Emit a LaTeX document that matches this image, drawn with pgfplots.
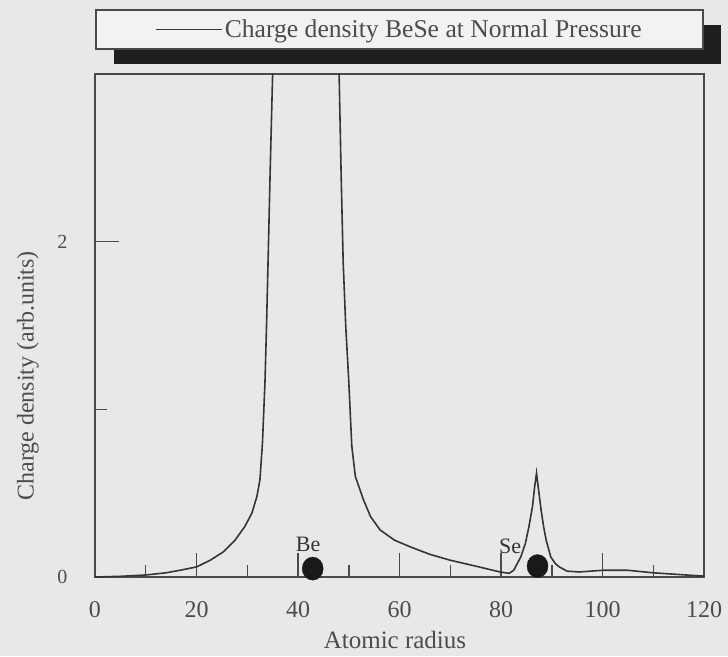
\documentclass[border=0pt]{standalone}
\usepackage{fontspec}
\setmainfont{Liberation Serif}
\usepackage{pgfplots}
\pgfplotsset{compat=1.18}
\usetikzlibrary{shadows}
\definecolor{bg}{HTML}{E8E8E8}
\definecolor{legfill}{HTML}{F2F2F2}
\definecolor{txt}{HTML}{4C4C4C}
\definecolor{frame}{HTML}{4A4A4A}
\definecolor{curve}{HTML}{353535}

\pgfplotstableread{
x y
0 0
5 0.004
10 0.012
14 0.025
16.7 0.04
20 0.06
22.7 0.10
25.3 0.15
27.6 0.22
29.5 0.30
30.9 0.38
31.9 0.48
32.5 0.58
33.0 0.80
33.5 1.17
33.8 1.50
34.1 1.88
34.5 2.40
35.0 3.00
35.3 3.40
41.5 9.00
47.9 3.30
48.1 3.00
48.5 2.40
48.9 1.88
49.4 1.50
50.0 1.17
50.6 0.78
51.3 0.60
52.9 0.46
54.3 0.36
56.2 0.28
59.0 0.22
62.1 0.18
66.0 0.135
70.0 0.10
75.0 0.065
79.8 0.03
81.6 0.022
82.5 0.04
83.9 0.12
84.8 0.20
85.5 0.30
86.2 0.42
86.6 0.53
87.0 0.62
87.4 0.52
87.9 0.40
88.4 0.30
88.9 0.22
89.8 0.12
90.7 0.08
91.5 0.06
93.0 0.035
95.4 0.03
100 0.04
105 0.04
110 0.025
115 0.015
120 0.005
}\density

\pgfplotstableread{
x y
42.9 0.05
87.2 0.065
}\atoms

\begin{document}
\begin{tikzpicture}
\fill[bg] (-95pt,-79pt) rectangle (633pt,577pt);
\begin{axis}[
  at={(0pt,0pt)}, anchor=south west,
  scale only axis, width=609pt, height=503pt,
  xmin=0, xmax=120, ymin=0, ymax=3,
  axis background/.style={fill=bg},
  axis line style={draw=frame, line width=1.6pt},
  xtick={0,20,...,120}, minor xtick={10,30,...,110},
  ytick={0,2}, minor ytick={1},
  tick pos=left,
  tick align=inside,
  major tick length=24pt, minor tick length=12pt,
  every tick/.style={draw=frame, line width=1.5pt},
  /pgf/number format/assume math mode=true,
  xticklabel style={font=\fontsize{24}{28}\selectfont, text=txt, yshift=-21pt},
  yticklabel style={font=\fontsize{20}{24}\selectfont, text=txt, xshift=-24pt},
  xlabel={Atomic radius},
  ylabel={Charge density (arb.units)},
  xlabel style={font=\fontsize{25}{30}\selectfont, text=txt, at={(axis description cs:0.4926,-0.125)}, anchor=center},
  ylabel style={font=\fontsize{24}{28}\selectfont, text=txt, at={(axis description cs:-0.11,0.40)}, anchor=center},
  legend style={at={(axis description cs:0.5,1)}, anchor=south, yshift=24pt,
    draw=frame, line width=1.6pt, fill=legfill,
    font=\fontsize{25.6}{30}\selectfont, text=txt,
    inner xsep=59pt, inner ysep=8pt,
    drop shadow={shadow xshift=18pt, shadow yshift=-15pt, fill=black!88, opacity=1}},
  legend image code/.code={%
    \pgfsetlinewidth{1.6pt}\pgfsetstrokecolor{curve}%
    \pgfpathmoveto{\pgfpoint{0pt}{0pt}}\pgfpathlineto{\pgfpoint{66pt}{0pt}}%
    \pgfusepath{stroke}},
]
\addplot[curve, line width=1.6pt] table[x=x, y=y] {\density};
\addlegendentry{Charge density BeSe at Normal Pressure}
\addplot[forget plot, only marks, mark=*, mark size=10.5pt, mark options={fill=black!90, draw=black!90, yscale=1.1}] table[x=x, y=y] {\atoms};
\node[font=\fontsize{22}{26}\selectfont, text=curve] at (axis cs:42,0.196) {Be};
\node[font=\fontsize{22}{26}\selectfont, text=curve] at (axis cs:81.8,0.18) {Se};
\end{axis}
\pgfresetboundingbox
\path[use as bounding box] (-95pt,-79pt) rectangle (633pt,577pt);
\end{tikzpicture}
\end{document}
